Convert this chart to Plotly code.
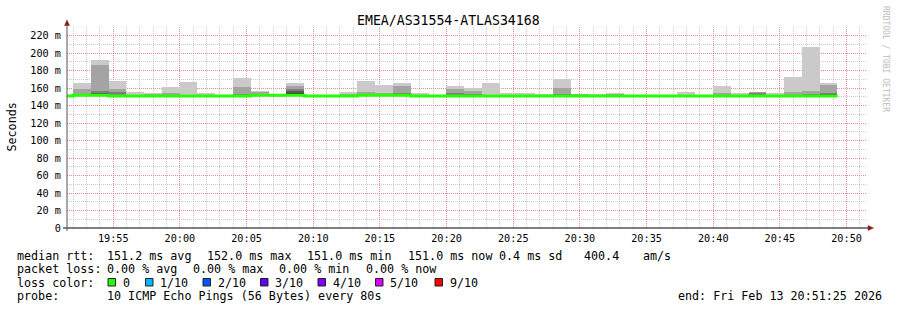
import pandas as pd
import plotly.graph_objects as go

# ---------------- data ----------------
TITLE = "EMEA/AS31554-ATLAS34168"
STEP_SECONDS = 80
FIRST_BAR_START = "2026-02-13 19:50:39"
X_RANGE = ["2026-02-13 19:51:32", "2026-02-13 20:51:32"]
X_TICKS = ["19:55", "20:00", "20:05", "20:10", "20:15", "20:20",
           "20:25", "20:30", "20:35", "20:40", "20:45", "20:50"]
Y_TICKS = [0, 20, 40, 60, 80, 100, 120, 140, 160, 180, 200, 220]
Y_TICK_TEXT = ["0", "20 m", "40 m", "60 m", "80 m", "100 m", "120 m",
               "140 m", "160 m", "180 m", "200 m", "220 m"]

# median rtt per 80 s step (ms)
median_ms = [151, 152, 152, 151, 151, 151, 151, 151, 151, 151, 151, 152,
             152, 152, 151, 151, 151, 152, 152, 152, 151, 151, 151, 151,
             151, 151, 151, 151, 151, 151, 151, 151, 151, 151, 151, 151,
             151, 151, 151, 151, 151, 151, 151, 151]
# sorted pings (ms): min, 6th .. 10th (max)
ping_min_ms = [150.8, 150.8, 150.8, 150.8, 150.8, 150.8, 150.8, 150.8, 150.8, 150.8, 150.8,
               150.8, 150.8, 150.8, 150.8, 150.8, 150.8, 150.8, 150.8, 150.8, 150.8, 150.8,
               150.8, 150.8, 150.8, 150.8, 150.8, 150.8, 150.8, 150.8, 150.8, 150.8, 150.8,
               150.8, 150.8, 150.8, 150.8, 150.8, 150.8, 150.8, 150.8, 150.8, 150.8, 150.8]
ping6_ms = [151.2, 152.0, 153.0, 151.5, 151.2, 151.2, 151.2, 151.2, 151.2, 151.2, 151.2,
            152.2, 152.2, 155.0, 151.2, 151.2, 151.2, 152.2, 152.2, 152.2, 151.2, 151.2,
            151.2, 151.2, 151.2, 151.2, 151.2, 151.2, 151.2, 151.2, 151.2, 151.2, 151.2,
            151.2, 151.2, 151.2, 151.2, 151.2, 151.2, 151.2, 151.2, 151.2, 151.2, 151.5]
ping7_ms = [151.2, 152.5, 154.0, 152.5, 151.5, 151.5, 151.5, 151.5, 151.3, 151.2, 151.5,
            152.5, 152.2, 157.0, 151.2, 151.2, 151.5, 152.5, 152.5, 152.5, 151.5, 151.2,
            151.5, 151.5, 151.5, 151.5, 151.5, 151.5, 151.5, 151.5, 151.5, 151.5, 151.2,
            151.2, 151.2, 151.5, 151.2, 151.5, 151.5, 152.0, 151.5, 151.5, 151.5, 153.0]
ping8_ms = [151.2, 153.0, 156.5, 156.0, 152.0, 152.5, 152.5, 152.0, 151.5, 151.3, 153.0,
            153.0, 152.3, 159.0, 151.3, 151.3, 152.0, 153.0, 153.0, 154.0, 152.0, 151.3,
            154.0, 153.0, 152.0, 152.0, 152.0, 152.0, 153.0, 152.0, 152.0, 152.0, 151.3,
            151.3, 151.3, 152.0, 151.3, 152.0, 152.0, 154.0, 152.0, 152.5, 153.0, 155.0]
ping9_ms = [151.2, 159.0, 186.4, 158.5, 152.5, 153.2, 154.0, 152.5, 152.0, 151.3, 160.8,
            156.0, 152.3, 163.0, 151.3, 151.3, 153.6, 155.8, 154.0, 162.6, 152.5, 151.3,
            159.6, 157.0, 152.5, 152.5, 152.5, 152.5, 160.0, 153.0, 152.5, 153.6, 151.3,
            151.3, 151.3, 152.5, 151.3, 154.0, 152.5, 155.5, 152.5, 155.8, 157.0, 163.8]
ping_max_ms = [151.3, 166.0, 192.0, 168.3, 155.8, 154.0, 161.5, 167.2, 155.0, 151.5, 171.7,
               157.0, 152.5, 166.0, 151.5, 151.5, 155.8, 168.3, 163.8, 166.0, 154.7, 151.5,
               162.6, 160.0, 166.0, 154.7, 154.7, 153.6, 171.0, 153.6, 153.6, 154.7, 151.5,
               151.5, 151.5, 155.8, 151.5, 163.0, 154.0, 156.0, 154.7, 173.2, 207.0, 166.4]

LOSS_LABELS = ["0", "1/10", "2/10", "3/10", "4/10", "5/10", "9/10"]
LOSS_COLORS = ["#26ff00", "#00b8ff", "#0059ff", "#5e00ff", "#7e00ff", "#dd00ff", "#ff0000"]

# ---------------- geometry helpers ----------------
W, H = 897, 310
PL, PR, PT, PB = 67, 867, 27, 228
FONT = "DejaVu Sans Mono"


def pxx(x):
    return (x - PL) / (PR - PL)


def pxy(y):
    return (PB - y) / (PB - PT)


starts = pd.date_range(start=FIRST_BAR_START, periods=len(median_ms), freq=f"{STEP_SECONDS}s")
centers = starts + pd.Timedelta(seconds=STEP_SECONDS / 2)
last_end = starts[-1] + pd.Timedelta(seconds=STEP_SECONDS)

fig = go.Figure()

# smoke bands: (lower, upper, grey)
bands = [
    (ping_min_ms, ping_max_ms, "#cacaca"),
    (median_ms, ping9_ms, "#a4a4a4"),
    (median_ms, ping8_ms, "#7e7e7e"),
    (median_ms, ping7_ms, "#585858"),
    (median_ms, ping6_ms, "#323232"),
]
for lo, hi, col in bands:
    fig.add_trace(go.Bar(
        x=centers, base=lo, y=[max(0.0, h - l) for l, h in zip(lo, hi)],
        width=STEP_SECONDS * 1000, marker=dict(color=col, line=dict(width=0)),
        hoverinfo="skip", showlegend=False,
    ))

fig.add_trace(go.Scatter(
    x=list(starts) + [last_end], y=median_ms + [median_ms[-1]],
    mode="lines", line=dict(color="#26ff00", width=3, shape="hv"),
    hoverinfo="skip", showlegend=False,
))

grid_major = "rgba(240,110,110,0.65)"
grid_minor = "rgba(170,170,170,0.6)"

fig.update_layout(
    width=W, height=H,
    margin=dict(l=PL, r=W - PR, t=PT, b=H - PB),
    paper_bgcolor="white", plot_bgcolor="white",
    barmode="overlay", bargap=0, showlegend=False,
    font=dict(family=FONT, color="black"),
    xaxis=dict(
        type="date", range=X_RANGE,
        tickmode="array",
        tickvals=[f"2026-02-13 {t}:00" for t in X_TICKS], ticktext=X_TICKS,
        showgrid=True, gridcolor=grid_major, gridwidth=1, griddash="1px,1px",
        minor=dict(dtick=60000, tick0="2026-02-13 19:50:00", showgrid=True,
                   gridcolor=grid_minor, gridwidth=1, griddash="1px,1px"),
        zeroline=False, showline=False, ticks="",
        tickfont=dict(family=FONT, size=10.2, color="black"),
        ticklabelstandoff=3,
    ),
    yaxis=dict(
        range=[0, 230], tickmode="array", tickvals=Y_TICKS, ticktext=Y_TICK_TEXT,
        showgrid=True, gridcolor=grid_major, gridwidth=1, griddash="1px,1px",
        minor=dict(dtick=10, tick0=0, showgrid=True, gridcolor=grid_minor,
                   gridwidth=1, griddash="1px,1px"),
        zeroline=False, showline=False, ticks="",
        tickfont=dict(family=FONT, size=10.2, color="black"),
        ticklabelstandoff=5,
    ),
)

shapes = []
# axes lines
shapes.append(dict(type="line", xref="paper", yref="paper", x0=pxx(63), x1=pxx(870),
                   y0=0, y1=0, line=dict(color="black", width=1), layer="above"))
shapes.append(dict(type="line", xref="paper", yref="paper", x0=0, x1=0,
                   y0=pxy(231), y1=pxy(23), line=dict(color="#555555", width=1), layer="above"))
# arrows
arrow_col = "#8c1c1c"
shapes.append(dict(type="path", xref="paper", yref="paper",
                   path=f"M {pxx(868)},{pxy(225.5)} L {pxx(873.5)},{pxy(228)} L {pxx(868)},{pxy(230.5)} Z",
                   fillcolor=arrow_col, line=dict(color=arrow_col, width=0.5), layer="above"))
shapes.append(dict(type="path", xref="paper", yref="paper",
                   path=f"M {pxx(64.5)},{pxy(25.5)} L {pxx(67)},{pxy(20)} L {pxx(69.5)},{pxy(25.5)} Z",
                   fillcolor=arrow_col, line=dict(color=arrow_col, width=0.5), layer="above"))

# loss colour legend boxes
box_x = [108, 145.5, 203, 260.5, 318, 375.5, 435]
txt_x = [123, 160, 217.7, 275, 332.7, 390, 450]
row_y = [255.5, 269, 282.5, 296]
for bx, col in zip(box_x, LOSS_COLORS):
    shapes.append(dict(type="rect", xref="paper", yref="paper",
                       x0=pxx(bx), x1=pxx(bx + 7.5), y0=pxy(row_y[2] - 4), y1=pxy(row_y[2] + 3.5),
                       fillcolor=col, line=dict(color="#222222", width=1)))
fig.update_layout(shapes=shapes)

LEG = 11.7


def txt(x, y, s, size=LEG, color="black", xanchor="left", angle=0):
    fig.add_annotation(
        xref="paper", yref="paper", x=pxx(x), y=pxy(y), text=s.replace(" ", "\u00a0"),
        showarrow=False, xanchor=xanchor, yanchor="middle", textangle=angle,
        font=dict(family=FONT, size=size, color=color), borderpad=0, borderwidth=0,
    )


txt(448.5, 20, TITLE, size=13.2, xanchor="center")
txt(11, 126.5, "Seconds", xanchor="center", angle=-90)
txt(886, 59, "RRDTOOL / TOBI OETIKER", size=8, color="#bdbdbd", xanchor="center", angle=90)

# legend line 1
for x, s in [(16.7, "median rtt:"), (107.3, "151.2 ms avg"), (207.3, "152.0 ms max"),
             (307.3, "151.0 ms min"), (407.5, "151.0 ms now"), (499, "0.4 ms sd"),
             (584.3, "400.4"), (642.7, "am/s")]:
    txt(x, row_y[0], s)
# legend line 2
for x, s in [(16.7, "packet loss:"), (107.3, "0.00 % avg"), (193.3, "0.00 % max"),
             (279.3, "0.00 % min"), (365.7, "0.00 % now")]:
    txt(x, row_y[1], s)
# legend line 3
txt(16.7, row_y[2], "loss color:")
for x, s in zip(txt_x, LOSS_LABELS):
    txt(x, row_y[2], s)
# legend line 4
txt(16.7, row_y[3], "probe:")
txt(107.3, row_y[3], "10 ICMP Echo Pings (56 Bytes) every 80s")
txt(677.7, row_y[3], "end: Fri Feb 13 20:51:25 2026")

fig.write_html("out.html")
